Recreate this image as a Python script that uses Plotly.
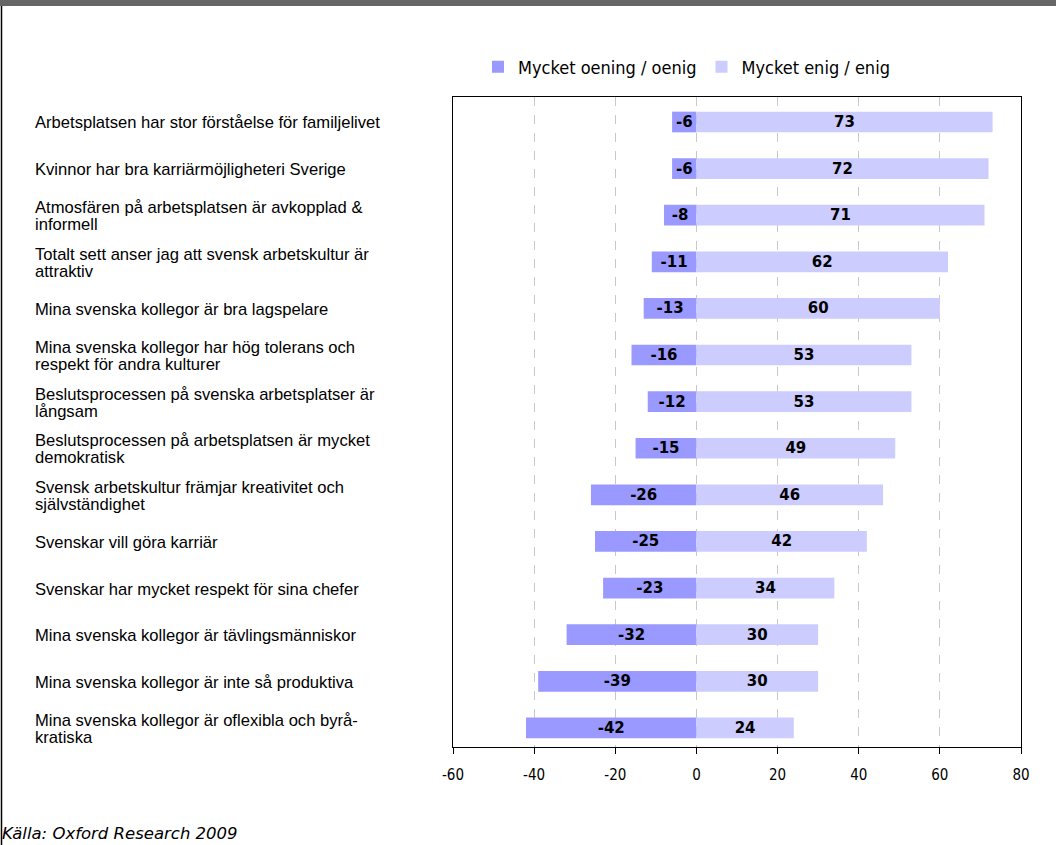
import plotly.graph_objects as go

# Statements, top to bottom as in the original chart
statements = [
    "Arbetsplatsen har stor förståelse för familjelivet",
    "Kvinnor har bra karriärmöjligheteri Sverige",
    "Atmosfären på arbetsplatsen är avkopplad &<br>informell",
    "Totalt sett anser jag att svensk arbetskultur är<br>attraktiv",
    "Mina svenska kollegor är bra lagspelare",
    "Mina svenska kollegor har hög tolerans och<br>respekt för andra kulturer",
    "Beslutsprocessen på svenska arbetsplatser är<br>långsam",
    "Beslutsprocessen på arbetsplatsen är mycket<br>demokratisk",
    "Svensk arbetskultur främjar kreativitet och<br>självständighet",
    "Svenskar vill göra karriär",
    "Svenskar har mycket respekt för sina chefer",
    "Mina svenska kollegor är tävlingsmänniskor",
    "Mina svenska kollegor är inte så produktiva",
    "Mina svenska kollegor är oflexibla och byrå-<br>kratiska",
]
disagree = [-6, -6, -8, -11, -13, -16, -12, -15, -26, -25, -23, -32, -39, -42]
agree = [73, 72, 71, 62, 60, 53, 53, 49, 46, 42, 34, 30, 30, 24]
tick_vals = [-60, -40, -20, 0, 20, 40, 60, 80]
tick_text = ["-60", "-40", "-20", "0", "20", "40", "60", "80"]

W, H = 1056, 845
L, R, T, B = 453, 35, 97, 98
pw, ph = W - L - R, H - T - B


def px_x(x):
    return (x - L) / pw


def px_y(y):
    return (H - B - y) / ph


cats = list(range(len(statements)))
bar_font = dict(family="DejaVu Sans", size=15, color="black", weight="bold")

fig = go.Figure()
fig.add_trace(go.Bar(
    y=cats, x=disagree, orientation="h", name="Mycket oening / oenig",
    marker=dict(color="#9999FF", line=dict(width=0)),
    text=disagree, textposition="inside", insidetextanchor="middle",
    textangle=0, constraintext="none", textfont=bar_font,
))
fig.add_trace(go.Bar(
    y=cats, x=agree, orientation="h", name="Mycket enig / enig",
    marker=dict(color="#CCCCFF", line=dict(width=0)),
    text=agree, textposition="inside", insidetextanchor="middle",
    textangle=0, constraintext="none", textfont=bar_font,
))

# left-aligned statement labels (lines placed close together like the original)
for i, s in enumerate(statements):
    lines = s.split("<br>")
    n = len(lines)
    for j, line in enumerate(lines):
        fig.add_annotation(x=px_x(33), xref="paper", y=i, yref="y", text=line,
                           showarrow=False, xanchor="left", yanchor="middle",
                           yshift=-(j - (n - 1) / 2) * 17 - 1,
                           font=dict(family="Liberation Sans, Arial", size=16.6, color="black"))

fig.add_annotation(x=px_x(0), xref="paper", y=px_y(834), yref="paper",
                   text="<i>Källa: Oxford Research 2009</i>",
                   showarrow=False, xanchor="left", yanchor="middle",
                   font=dict(family="DejaVu Sans", size=16.5, color="black"))

fig.update_layout(
    width=W, height=H,
    barmode="relative", bargap=0.556,
    plot_bgcolor="white", paper_bgcolor="white",
    margin=dict(l=L, r=R, t=T, b=B),
    font=dict(family="DejaVu Sans", color="black"),
    showlegend=True,
    legend=dict(orientation="h", x=px_x(478), y=px_y(67), xanchor="left", yanchor="middle",
                font=dict(size=18, family="DejaVu Sans Condensed, DejaVu Sans"),
                itemwidth=30, traceorder="normal", itemclick=False),
    xaxis=dict(range=[-60, 80], tickvals=tick_vals, ticktext=tick_text, showgrid=True,
               gridcolor="#C8C8C8", griddash="dash", gridwidth=1,
               showline=True, linecolor="black", linewidth=1, mirror=True,
               ticks="outside", ticklen=6, tickcolor="black", ticklabelstandoff=8,
               tickfont=dict(size=15, family="DejaVu Sans Condensed, DejaVu Sans"),
               zeroline=False),
    yaxis=dict(range=[13.41, -0.536], showticklabels=False,
               showline=True, linecolor="black", linewidth=1, mirror=True,
               ticks="", showgrid=False, zeroline=False),
    shapes=[
        dict(type="rect", xref="paper", yref="paper", x0=px_x(0), x1=px_x(W),
             y0=px_y(6), y1=px_y(0), fillcolor="#666666", line=dict(width=0), layer="above"),
        dict(type="line", xref="paper", yref="paper", x0=px_x(1.5), x1=px_x(1.5),
             y0=px_y(H), y1=px_y(6), line=dict(color="black", width=1.5)),
    ],
)

fig.write_html("out.html", config={"displayModeBar": False},
               post_script="document.body.style.margin='0';document.body.style.overflow='hidden';")
